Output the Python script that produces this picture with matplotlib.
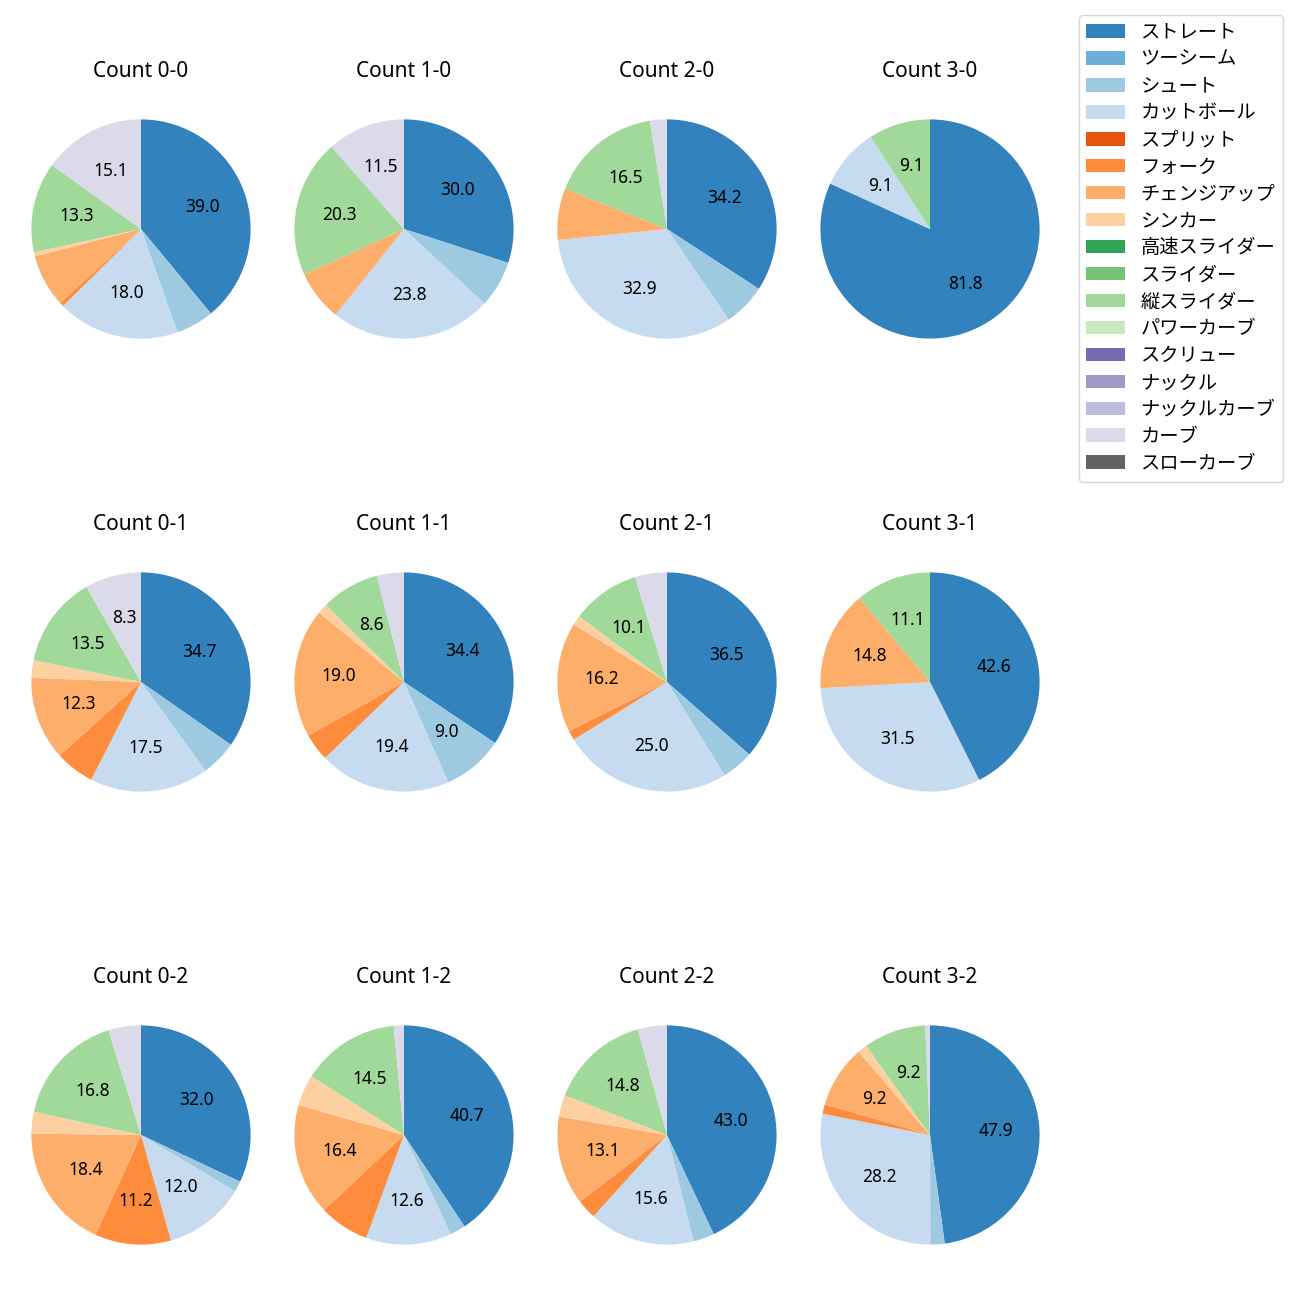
import matplotlib
matplotlib.use("Agg")
import matplotlib.pyplot as plt
from matplotlib.patches import Patch

plt.rcParams['font.family'] = ['Noto Sans', 'Noto Sans CJK JP', 'DejaVu Sans']

# pitch types (legend order)
pitches = ['ストレート', 'ツーシーム', 'シュート', 'カットボール', 'スプリット', 'フォーク',
           'チェンジアップ', 'シンカー', '高速スライダー', 'スライダー', '縦スライダー',
           'パワーカーブ', 'スクリュー', 'ナックル', 'ナックルカーブ', 'カーブ', 'スローカーブ']
colors = [plt.cm.tab20c(i) for i in range(len(pitches))]

# share (%) per count, same order as pitches
c00 = [39.0, 0, 5.6, 18.0, 0, 0.6, 7.8, 0.6, 0, 0, 13.3, 0, 0, 0, 0, 15.1, 0]
c10 = [30.0, 0, 6.9, 23.8, 0, 0, 7.5, 0, 0, 0, 20.3, 0, 0, 0, 0, 11.5, 0]
c20 = [34.2, 0, 6.3, 32.9, 0, 0, 7.6, 0, 0, 0, 16.5, 0, 0, 0, 0, 2.5, 0]
c30 = [81.8, 0, 0, 9.1, 0, 0, 0, 0, 0, 0, 9.1, 0, 0, 0, 0, 0, 0]
c01 = [34.7, 0, 5.3, 17.5, 0, 5.8, 12.3, 2.6, 0, 0, 13.5, 0, 0, 0, 0, 8.3, 0]
c11 = [34.4, 0, 9.0, 19.4, 0, 4.1, 19.0, 1.5, 0, 0, 8.6, 0, 0, 0, 0, 4.0, 0]
c21 = [36.5, 0, 4.7, 25.0, 0, 1.4, 16.2, 1.4, 0, 0, 10.1, 0, 0, 0, 0, 4.7, 0]
c31 = [42.6, 0, 0, 31.5, 0, 0, 14.8, 0, 0, 0, 11.1, 0, 0, 0, 0, 0, 0]
c02 = [32.0, 0, 1.6, 12.0, 0, 11.2, 18.4, 3.2, 0, 0, 16.8, 0, 0, 0, 0, 4.8, 0]
c12 = [40.7, 0, 2.3, 12.6, 0, 7.4, 16.4, 4.6, 0, 0, 14.5, 0, 0, 0, 0, 1.5, 0]
c22 = [43.0, 0, 3.1, 15.6, 0, 2.9, 13.1, 3.2, 0, 0, 14.8, 0, 0, 0, 0, 4.3, 0]
c32 = [47.9, 0, 2.1, 28.2, 0, 1.4, 9.2, 1.4, 0, 0, 9.2, 0, 0, 0, 0, 0.7, 0]

grid = [[('0-0', c00), ('1-0', c10), ('2-0', c20), ('3-0', c30)],
        [('0-1', c01), ('1-1', c11), ('2-1', c21), ('3-1', c31)],
        [('0-2', c02), ('1-2', c12), ('2-2', c22), ('3-2', c32)]]

fig = plt.figure(figsize=(13, 13), dpi=100)
W = H = 1300
box = 274

def autopct(p):
    return f'{p:.1f}' if p >= 8 else ''

for r, row in enumerate(grid):
    for c, (name, vals) in enumerate(row):
        cx = 141 + 263 * c
        cy = 229 + 453 * r
        ax = fig.add_axes([(cx - box / 2) / W, 1 - (cy + box / 2) / H, box / W, box / H])
        keep = [i for i, v in enumerate(vals) if v > 0]
        ax.pie([vals[i] for i in keep], colors=[colors[i] for i in keep],
               startangle=90, counterclock=False, autopct=autopct,
               textprops={'fontsize': 12.5})
        ax.set_title(f'Count {name}', fontsize=15, pad=10.5)

handles = [Patch(facecolor=col, label=lab) for col, lab in zip(colors, pitches)]
fig.legend(handles=handles, loc='upper right', bbox_to_anchor=(1283 / W, 1 - 15 / H),
           borderaxespad=0, fontsize=13.9, labelspacing=0.36)

fig.savefig('out.png', dpi=100)
